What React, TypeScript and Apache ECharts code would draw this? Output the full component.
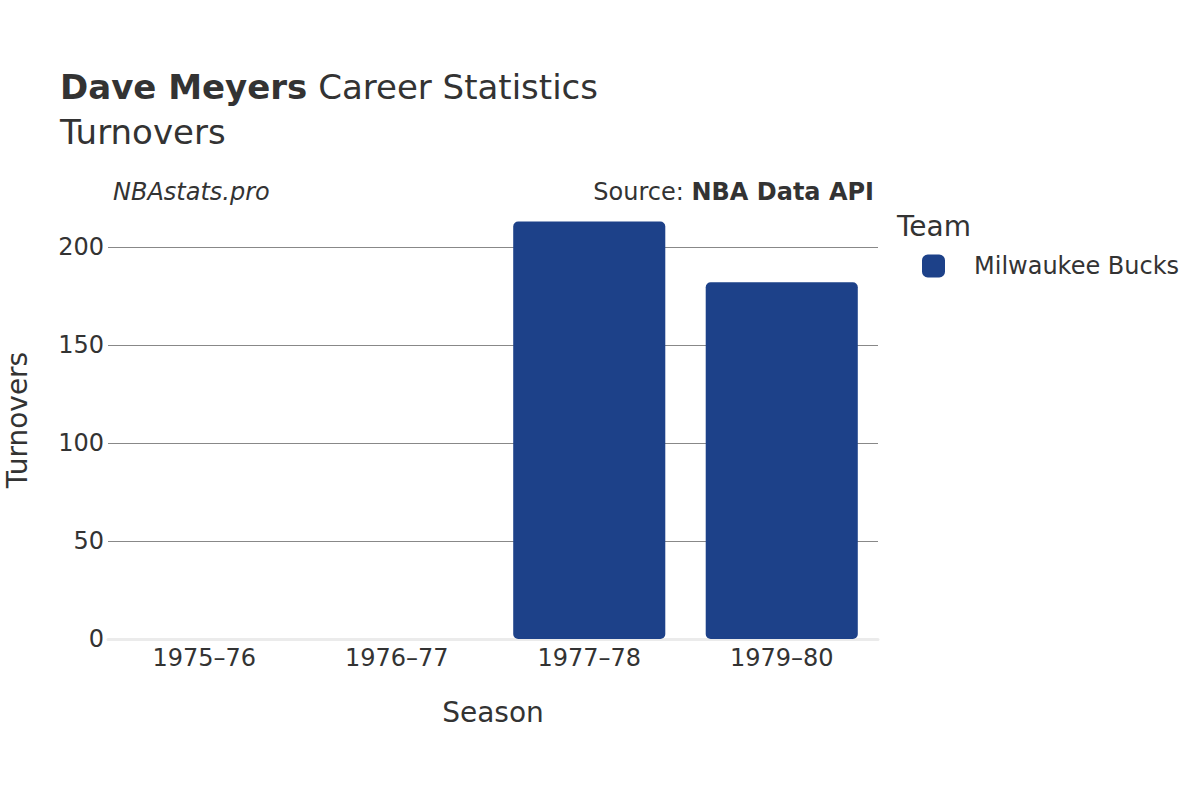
import React, { useEffect, useRef } from "react";
import * as echarts from "echarts";

const seasons = ["1975–76", "1976–77", "1977–78", "1979–80"];
const turnovers: (number | null)[] = [null, null, 213, 182];
const teamName = "Milwaukee Bucks";
const yTicks = { min: 0, max: 200, interval: 50 };

const FONT = "DejaVu Sans, sans-serif";

export default function App() {
  const ref = useRef<HTMLDivElement>(null);
  useEffect(() => {
    const chart = echarts.init(ref.current!, null, { renderer: "svg" });
    chart.setOption({
      animation: false,
      textStyle: { fontFamily: FONT },
      grid: { left: 108, right: 322, top: 247, height: 392, containLabel: false },
      xAxis: {
        type: "category",
        data: seasons,
        name: "Season",
        nameLocation: "middle",
        nameGap: 59,
        nameTextStyle: { fontSize: 28, color: "#333", fontFamily: FONT },
        axisLine: { show: true, lineStyle: { color: "#ebebeb", width: 3 } },
        axisTick: { show: false },
        axisLabel: { fontSize: 24, color: "#333", margin: 7, fontFamily: FONT },
      },
      yAxis: {
        type: "value",
        min: yTicks.min,
        max: yTicks.max,
        interval: yTicks.interval,
        axisLine: { show: false },
        axisTick: { show: false },
        axisLabel: { fontSize: 24, color: "#333", margin: 4, fontFamily: FONT },
        splitLine: { lineStyle: { color: "#888", width: 1 } },
      },
      legend: {
        show: true,
        left: 917,
        top: 249,
        orient: "vertical",
        icon: "roundRect",
        itemWidth: 23,
        itemHeight: 23,
        itemGap: 10,
        textStyle: { fontSize: 24, color: "#333", fontFamily: FONT, padding: [0, 0, 0, 24] },
        data: [teamName],
      },
      series: [
        {
          name: teamName,
          type: "bar",
          data: turnovers,
          barWidth: "79%",
          clip: false,
          itemStyle: { color: "#1d4189", borderRadius: 5 },
        },
      ],
      graphic: [
        {
          type: "text",
          left: 60,
          top: 70,
          style: {
            rich: {
              b: { fontSize: 34, fontWeight: "bold", fill: "#333", fontFamily: FONT },
              n: { fontSize: 34, fill: "#333", fontFamily: FONT },
            },
            text: "{b|Dave Meyers}{n| Career Statistics}",
          },
        },
        {
          type: "text",
          left: 60,
          top: 115,
          style: { text: "Turnovers", fontSize: 34, fill: "#333", fontFamily: FONT },
        },
        {
          type: "text",
          left: 113,
          top: 180,
          style: { text: "NBAstats.pro", fontSize: 24, fontStyle: "italic", fill: "#333", fontFamily: FONT },
        },
        {
          type: "text",
          right: 326,
          top: 180,
          style: {
            rich: {
              n: { fontSize: 24, fill: "#333", fontFamily: FONT },
              b: { fontSize: 24, fontWeight: "bold", fill: "#333", fontFamily: FONT },
            },
            text: "{n|Source: }{b|NBA Data API}",
          },
        },
        {
          type: "text",
          left: 897,
          top: 212,
          style: { text: "Team", fontSize: 28, fill: "#333", fontFamily: FONT },
        },
        {
          type: "text",
          x: 17,
          y: 420,
          rotation: Math.PI / 2,
          style: {
            text: "Turnovers",
            fontSize: 28,
            fill: "#333",
            fontFamily: FONT,
            align: "center",
            verticalAlign: "middle",
          },
        },
      ],
    });
    return () => chart.dispose();
  }, []);
  return <div ref={ref} style={{ width: 1200, height: 800, position: "absolute", left: 0, top: 0 }} />;
}
